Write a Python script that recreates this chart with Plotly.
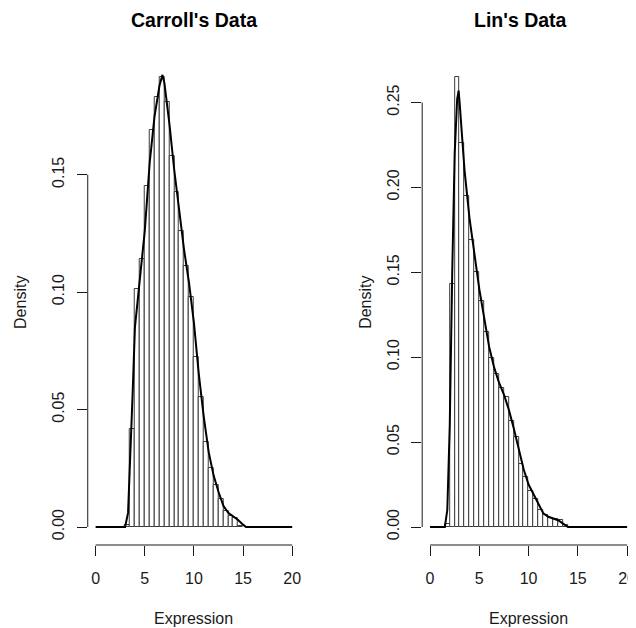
import plotly.graph_objects as go

# ---------------- data ----------------
bin_width = 0.5

carroll_bin_mid = [3.25, 3.75, 4.25, 4.75, 5.25, 5.75, 6.25, 6.75, 7.25, 7.75, 8.25, 8.75,
                   9.25, 9.75, 10.25, 10.75, 11.25, 11.75, 12.25, 12.75, 13.25, 13.75, 14.25, 14.75]
carroll_density = [0.001, 0.0416, 0.1013, 0.114, 0.145, 0.169, 0.183, 0.1916, 0.181, 0.158, 0.1425, 0.126,
                   0.111, 0.098, 0.0723, 0.0553, 0.0364, 0.025, 0.0179, 0.0119, 0.0069, 0.0047, 0.004, 0.0004]

carroll_curve_x = [0, 3.0, 3.3, 3.5, 3.75, 4.0, 4.5, 5.0, 5.5, 6.0, 6.5, 6.8, 7.0, 7.5, 8.0, 8.5, 9.0,
                   9.5, 10.0, 10.5, 11.0, 11.5, 12.0, 12.5, 13.0, 13.5, 14.0, 14.5, 15.0, 15.3, 20]
carroll_curve_y = [0, 0, 0.006, 0.025, 0.055, 0.085, 0.106, 0.126, 0.155, 0.175, 0.188, 0.1925, 0.189, 0.172,
                   0.152, 0.135, 0.118, 0.104, 0.087, 0.065, 0.047, 0.032, 0.022, 0.015, 0.009, 0.006,
                   0.0045, 0.003, 0.001, 0, 0]

lin_bin_mid = [1.75, 2.25, 2.75, 3.25, 3.75, 4.25, 4.75, 5.25, 5.75, 6.25, 6.75, 7.25, 7.75,
               8.25, 8.75, 9.25, 9.75, 10.25, 10.75, 11.25, 11.75, 12.25, 12.75, 13.25, 13.75]
lin_density = [0.0018, 0.143, 0.265, 0.226, 0.195, 0.169, 0.150, 0.133, 0.115, 0.0998, 0.090, 0.082, 0.0763,
               0.0625, 0.0531, 0.037, 0.0292, 0.0214, 0.0165, 0.0102, 0.0071, 0.0051, 0.0047, 0.0039, 0.001]

lin_curve_x = [0, 1.5, 1.75, 2.0, 2.25, 2.5, 2.75, 2.9, 3.0, 3.5, 4.0, 4.5, 5.0, 5.5, 6.0, 6.5, 7.0, 7.5,
               8.0, 8.5, 9.0, 9.5, 10.0, 10.5, 11.0, 11.5, 12.0, 12.5, 13.0, 13.5, 14.0, 20]
lin_curve_y = [0, 0, 0.01, 0.06, 0.15, 0.22, 0.252, 0.257, 0.25, 0.21, 0.182, 0.16, 0.14, 0.123, 0.106,
               0.094, 0.085, 0.078, 0.069, 0.058, 0.045, 0.034, 0.025, 0.019, 0.013, 0.008, 0.006,
               0.005, 0.004, 0.002, 0, 0]

x_ticks = [0, 5, 10, 15, 20]
carroll_y_ticks = [0.00, 0.05, 0.10, 0.15]
lin_y_ticks = [0.00, 0.05, 0.10, 0.15, 0.20, 0.25]

titles = ["Carroll's Data", "Lin's Data"]
x_label = "Expression"
y_label = "Density"

# ---------------- figure ----------------
# page body has an 8px default margin, so the figure is 8px smaller on each side
OFF = 8
W, H = 636 - OFF, 628 - OFF
FONT = "Liberation Sans, Arial, sans-serif"
INK = "#1a1a1a"

fig = go.Figure()

bar_style = dict(marker=dict(color="white", line=dict(color="#3a3a3a", width=1)), showlegend=False,
                 hoverinfo="skip")
fig.add_trace(go.Bar(x=carroll_bin_mid, y=carroll_density, width=bin_width, xaxis="x", yaxis="y", **bar_style))
fig.add_trace(go.Scatter(x=carroll_curve_x, y=carroll_curve_y, mode="lines", xaxis="x", yaxis="y",
                         line=dict(color="black", width=2), showlegend=False))
fig.add_trace(go.Bar(x=lin_bin_mid, y=lin_density, width=bin_width, xaxis="x2", yaxis="y2", **bar_style))
fig.add_trace(go.Scatter(x=lin_curve_x, y=lin_curve_y, mode="lines", xaxis="x2", yaxis="y2",
                         line=dict(color="black", width=2), showlegend=False))

def px_x(p):
    return (p - OFF) / W

def px_y(p):
    return 1 - (p - OFF) / H

y_dom = [px_y(545), px_y(59)]

def xaxis(domain, rng, anchor):
    return dict(domain=domain, range=rng, anchor=anchor, showgrid=False, zeroline=False, showline=False,
                tickmode="array", tickvals=x_ticks, ticktext=[str(t) for t in x_ticks],
                ticks="outside", ticklen=10, tickwidth=1, tickcolor=INK, ticklabelstandoff=9,
                ticklabeloverflow="allow",
                tickfont=dict(family=FONT, size=16, color=INK))

def yaxis(rng, ticks, anchor):
    return dict(domain=y_dom, range=rng, anchor=anchor, showgrid=False, zeroline=False, showline=False,
                tickmode="array", tickvals=ticks, ticktext=["%.2f" % t for t in ticks],
                ticks="outside", ticklen=10, tickwidth=1, tickcolor=INK, tickangle=-90,
                ticklabelstandoff=6,
                tickfont=dict(family=FONT, size=16, color=INK))

c_max = max(carroll_density)
l_max = max(lin_density)

fig.update_layout(
    width=W, height=H, autosize=False,
    margin=dict(l=0, r=0, t=0, b=0),
    paper_bgcolor="white", plot_bgcolor="white",
    bargap=0,
    xaxis=xaxis([px_x(88), px_x(301)], [-0.8, 20.8], "y"),
    yaxis=yaxis([-0.04 * c_max, 1.04 * c_max], carroll_y_ticks, "x"),
    xaxis2=xaxis([px_x(423.5), 1.0], [-0.8, 20.7], "y2"),
    yaxis2=yaxis([-0.04 * l_max, 1.04 * l_max], lin_y_ticks, "x2"),
)

# R-style axis lines (from first to last tick)
for xr, yr, yt in [("x", "y", carroll_y_ticks), ("x2", "y2", lin_y_ticks)]:
    fig.add_shape(type="line", xref=xr, yref=yr + " domain", x0=x_ticks[0], x1=x_ticks[-1], y0=0, y1=0,
                  line=dict(color=INK, width=1))
    fig.add_shape(type="line", xref=xr + " domain", yref=yr, x0=0, x1=0, y0=yt[0], y1=yt[-1],
                  line=dict(color=INK, width=1))

# titles and axis labels
ann = []
for t, cx in zip(titles, [194.5, 522]):
    ann.append(dict(text="<b>%s</b>" % t, x=px_x(cx), y=px_y(20), xref="paper", yref="paper",
                    xanchor="center", yanchor="middle", showarrow=False,
                    font=dict(family=FONT, size=19.5, color="black")))
for xr in ["x", "x2"]:
    ann.append(dict(text=x_label, x=10, y=px_y(618), xref=xr, yref="paper", xanchor="center",
                    yanchor="middle", showarrow=False, font=dict(family=FONT, size=16, color=INK)))
for cx in [21, 367]:
    ann.append(dict(text=y_label, x=px_x(cx), y=0.5 * (y_dom[0] + y_dom[1]), xref="paper", yref="paper",
                    xanchor="center", yanchor="middle", textangle=-90, showarrow=False,
                    font=dict(family=FONT, size=16, color=INK)))
fig.update_layout(annotations=ann)

fig.write_html("out.html")
